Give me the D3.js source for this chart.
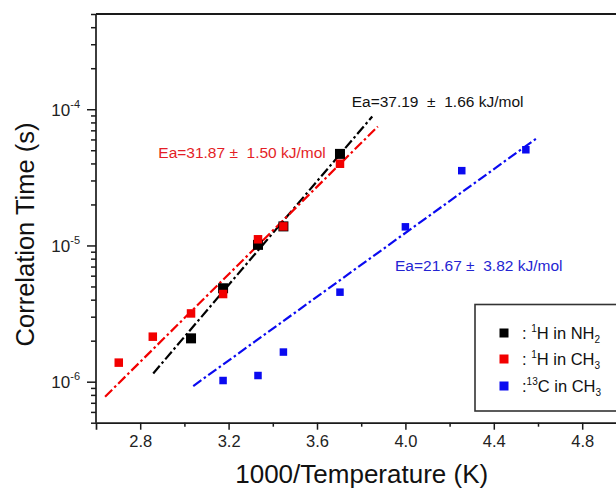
<!DOCTYPE html>
<html>
<head>
<meta charset="utf-8">
<script src="https://cdn.jsdelivr.net/npm/d3@7"></script>
<style>
  html, body { margin: 0; padding: 0; background: #fff; }
  svg { display: block; font-family: "Liberation Sans", Arial, sans-serif; }
  text { white-space: pre; }
</style>
</head>
<body>
<svg id="chart" width="616" height="490"></svg>
<script>
// ---------------- data ----------------
const xNH2 = [3.030, 3.175, 3.333, 3.448, 3.704];
const yNH2 = [2.08e-6, 4.85e-6, 1.01e-5, 1.38e-5, 4.70e-5];

const xCH3H = [2.703, 2.857, 3.030, 3.175, 3.333, 3.448, 3.704];
const yCH3H = [1.38e-6, 2.14e-6, 3.17e-6, 4.40e-6, 1.11e-5, 1.38e-5, 3.98e-5];

const xCH3C = [3.175, 3.333, 3.448, 3.704, 4.000, 4.255, 4.545];
const yCH3C = [1.02e-6, 1.11e-6, 1.65e-6, 4.54e-6, 1.37e-5, 3.54e-5, 5.04e-5];

// fitted lines, end points
const fitNH2X = [2.859, 3.850];
const fitNH2Y = [1.15e-6, 8.85e-5];
const fitCH3HX = [2.641, 3.875];
const fitCH3HY = [7.76e-7, 7.46e-5];
const fitCH3CX = [3.040, 4.601];
const fitCH3CY = [9.29e-7, 6.24e-5];

const xMajorTicks = [2.8, 3.2, 3.6, 4.0, 4.4, 4.8];
const xMinorTicks = [3.0, 3.4, 3.8, 4.2, 4.6, 5.0];
const yMajorTicks = [1e-6, 1e-5, 1e-4];
const yMajorExp = ["-6", "-5", "-4"];

const annotTexts = ["Ea=37.19  \u00b1  1.66 kJ/mol", "Ea=31.87 \u00b1  1.50 kJ/mol", "Ea=21.67 \u00b1  3.82 kJ/mol"];
const annotX = [3.757, 2.882, 3.953];
const annotY = [1.035e-4, 4.38e-5, 6.5e-6];

const legendParts = [
  [{t: ": "}, {t: "1", s: "sup"}, {t: "H in NH"}, {t: "2", s: "sub"}],
  [{t: ": "}, {t: "1", s: "sup"}, {t: "H in CH"}, {t: "3", s: "sub"}],
  [{t: ":"}, {t: "13", s: "sup"}, {t: "C in CH"}, {t: "3", s: "sub"}]
];

const xTitle = "1000/Temperature (K)";
const yTitle = "Correlation Time (s)";

// ---------------- styling ----------------
const FONT = "'Liberation Sans', Arial, sans-serif";
const cBlack = "#000000", cRed = "#f20000", cBlue = "#0a0af0";
const cRedText = "#e41e26", cBlueText = "#2424d2";

const svg = d3.select("#chart");
const mLeft = 96, mRight = 626.4, mTop = 14, mBottom = 422.7;

const x = d3.scaleLinear().domain([2.6, 5.0]).range([mLeft, mRight]);
const y = d3.scaleLog().domain([5e-7, 5e-4]).range([mBottom, mTop]);

// minor y ticks
const yMinorTicks = [];
[-7, -6, -5, -4].forEach(e => {
  for (let m = 2; m <= 9; m++) {
    const v = m * Math.pow(10, e);
    if (v >= 5e-7 && v <= 5e-4) yMinorTicks.push(v);
  }
});

const axisColor = "#1a1a1a";

// x axis minor
svg.append("g").attr("transform", `translate(0,${mBottom})`)
  .call(d3.axisBottom(x).tickValues(xMinorTicks).tickSize(4).tickFormat(""))
  .call(g => g.select(".domain").remove())
  .call(g => g.selectAll("line").attr("stroke", axisColor).attr("stroke-width", 1.5));
// x axis major
svg.append("g").attr("transform", `translate(0,${mBottom})`)
  .call(d3.axisBottom(x).tickValues(xMajorTicks).tickSize(7).tickPadding(6).tickFormat(d3.format(".1f")))
  .call(g => g.select(".domain").attr("stroke", axisColor).attr("stroke-width", 1.7))
  .call(g => g.selectAll("line").attr("stroke", axisColor).attr("stroke-width", 1.5))
  .call(g => g.selectAll("text").attr("font-size", 16.5).attr("fill", "#222").attr("font-family", FONT));

// y axis minor
svg.append("g").attr("transform", `translate(${mLeft},0)`)
  .call(d3.axisLeft(y).tickValues(yMinorTicks).tickSize(5).tickFormat(""))
  .call(g => g.select(".domain").remove())
  .call(g => g.selectAll("line").attr("stroke", axisColor).attr("stroke-width", 1.5));
// y axis major
svg.append("g").attr("transform", `translate(${mLeft},0)`)
  .call(d3.axisLeft(y).tickValues(yMajorTicks).tickSize(9).tickFormat(""))
  .call(g => g.select(".domain").attr("stroke", axisColor).attr("stroke-width", 1.7)
    .attr("d", `M0,${mBottom}V${mTop}`))
  .call(g => g.selectAll("line").attr("stroke", axisColor).attr("stroke-width", 1.5));

// y tick labels: 10^exp
yMajorTicks.forEach((v, i) => {
  const t = svg.append("text")
    .attr("x", 80).attr("y", y(v) + 6.3)
    .attr("text-anchor", "end").attr("fill", "#222").attr("font-family", FONT);
  t.append("tspan").attr("font-size", 17).text("10");
  t.append("tspan").attr("font-size", 11).attr("dy", -7.5).text(yMajorExp[i]);
});

// top frame line
svg.append("line").attr("x1", mLeft).attr("x2", mRight).attr("y1", mTop).attr("y2", mTop)
  .attr("stroke", axisColor).attr("stroke-width", 1.8);

// axis titles
svg.append("text").attr("x", 361.7).attr("y", 483)
  .attr("text-anchor", "middle").attr("font-size", 26).attr("fill", "#111")
  .attr("font-family", FONT).text(xTitle);
svg.append("text").attr("transform", `translate(33.5,${(122 + 347) / 2}) rotate(-90)`)
  .attr("text-anchor", "middle").attr("font-size", 25.5).attr("fill", "#111")
  .attr("font-family", FONT).text(yTitle);

// fit lines
const line = d3.line().x(d => x(d[0])).y(d => y(d[1]));
const fits = [
  [fitNH2X, fitNH2Y, cBlack],
  [fitCH3HX, fitCH3HY, cRed],
  [fitCH3CX, fitCH3CY, cBlue]
];
fits.forEach(([fx, fy, c]) => {
  svg.append("path").datum(fx.map((v, i) => [v, fy[i]]))
    .attr("d", line).attr("fill", "none").attr("stroke", c)
    .attr("stroke-width", 2.2).attr("stroke-dasharray", "10,3,2.5,3");
});

// points
function squares(xs, ys, c, s) {
  svg.append("g").selectAll("rect").data(xs.map((v, i) => [v, ys[i]])).join("rect")
    .attr("x", d => x(d[0]) - s / 2).attr("y", d => y(d[1]) - s / 2)
    .attr("width", s).attr("height", s).attr("fill", c);
}
squares(xNH2, yNH2, cBlack, 10);
squares(xCH3H, yCH3H, cRed, 8.5);
squares(xCH3C, yCH3C, cBlue, 7.5);

// annotations
const annotColors = ["#111", cRedText, cBlueText];
annotTexts.forEach((t, i) => {
  svg.append("text").attr("x", x(annotX[i])).attr("y", y(annotY[i]))
    .attr("font-size", 15.5).attr("fill", annotColors[i]).attr("font-family", FONT)
    .attr("xml:space", "preserve").text(t);
});

// legend
svg.append("rect").attr("x", 475).attr("y", 304.5).attr("width", 200).attr("height", 106.5)
  .attr("fill", "#fff").attr("stroke", "#333").attr("stroke-width", 1.6);
const legColors = [cBlack, cRed, cBlue];
const legY = [333, 359, 386];
legendParts.forEach((parts, i) => {
  svg.append("rect").attr("x", 504 - 4.5).attr("y", legY[i] - 4.5)
    .attr("width", 9).attr("height", 9).attr("fill", legColors[i]);
  const t = svg.append("text").attr("x", 522).attr("y", legY[i] + 6)
    .attr("font-size", 16.5).attr("fill", "#111").attr("font-family", FONT)
    .attr("xml:space", "preserve");
  let prev = null;
  parts.forEach(p => {
    const ts = t.append("tspan").text(p.t);
    if (p.s === "sup") ts.attr("font-size", 10).attr("dy", -7);
    else if (p.s === "sub") ts.attr("font-size", 10).attr("dy", 4);
    else if (prev && prev.s === "sup") ts.attr("dy", 7);
    prev = p;
  });
});
</script>
</body>
</html>
